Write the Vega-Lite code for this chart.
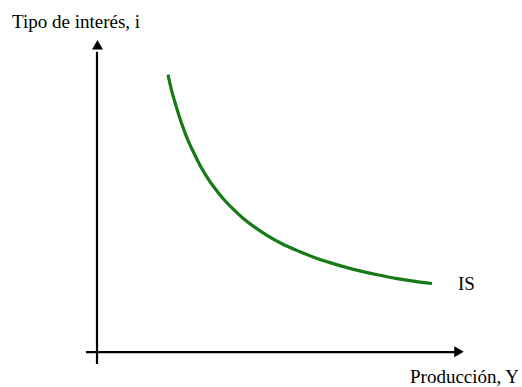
{
  "$schema": "https://vega.github.io/schema/vega-lite/v6.json",
  "width": 522,
  "height": 387,
  "autosize": {"type": "fit", "contains": "padding"},
  "padding": 0,
  "background": "white",
  "config": {"view": {"stroke": null}},
  "datasets": {
    "curve": [
      {"x": 71, "y": 279}, {"x": 74, "y": 265.5}, {"x": 78, "y": 251}, {"x": 82, "y": 238},
      {"x": 86, "y": 226}, {"x": 91, "y": 213}, {"x": 96, "y": 202}, {"x": 103, "y": 188},
      {"x": 110, "y": 176}, {"x": 118, "y": 164.5}, {"x": 126, "y": 154.5}, {"x": 136, "y": 144},
      {"x": 146, "y": 134.7}, {"x": 158, "y": 125.4}, {"x": 170, "y": 117.5}, {"x": 185, "y": 109},
      {"x": 203, "y": 101}, {"x": 218, "y": 95}, {"x": 233, "y": 90}, {"x": 250, "y": 85},
      {"x": 266, "y": 81}, {"x": 283, "y": 77.3}, {"x": 300, "y": 74}, {"x": 318, "y": 71.2},
      {"x": 335, "y": 69}
    ],
    "axes": [
      {"x": 0, "y": -12, "x2": 0, "y2": 302},
      {"x": -11, "y": 0, "x2": 358, "y2": 0}
    ],
    "arrows": [
      {"x": 0.5, "y": 309, "shape": "triangle-up"},
      {"x": 362, "y": 0.5, "shape": "triangle-right"}
    ],
    "labels": [
      {"x": -85, "y": 326, "text": "Tipo de interés, i"},
      {"x": 313, "y": -31, "text": "Producción, Y"},
      {"x": 361, "y": 62, "text": "IS"}
    ]
  },
  "layer": [
    {
      "data": {"name": "axes"},
      "mark": {"type": "rule", "color": "black", "strokeWidth": 2.2},
      "encoding": {
        "x": {"field": "x", "type": "quantitative", "scale": {"domain": [-97, 425], "nice": false, "zero": false}, "axis": null},
        "y": {"field": "y", "type": "quantitative", "scale": {"domain": [-33, 354], "nice": false, "zero": false}, "axis": null},
        "x2": {"field": "x2"},
        "y2": {"field": "y2"}
      }
    },
    {
      "data": {"name": "arrows"},
      "mark": {"type": "point", "filled": true, "color": "black", "size": 120, "opacity": 1},
      "encoding": {
        "x": {"field": "x", "type": "quantitative"},
        "y": {"field": "y", "type": "quantitative"},
        "shape": {"field": "shape", "type": "nominal", "scale": null, "legend": null}
      }
    },
    {
      "data": {"name": "curve"},
      "mark": {"type": "line", "color": "#167a16", "strokeWidth": 3.2, "interpolate": "monotone"},
      "encoding": {
        "x": {"field": "x", "type": "quantitative"},
        "y": {"field": "y", "type": "quantitative"},
        "order": {"field": "x", "type": "quantitative"}
      }
    },
    {
      "data": {"name": "labels"},
      "mark": {"type": "text", "align": "left", "baseline": "alphabetic", "font": "Liberation Serif", "fontSize": 19, "color": "black"},
      "encoding": {
        "x": {"field": "x", "type": "quantitative"},
        "y": {"field": "y", "type": "quantitative"},
        "text": {"field": "text", "type": "nominal"}
      }
    }
  ]
}
